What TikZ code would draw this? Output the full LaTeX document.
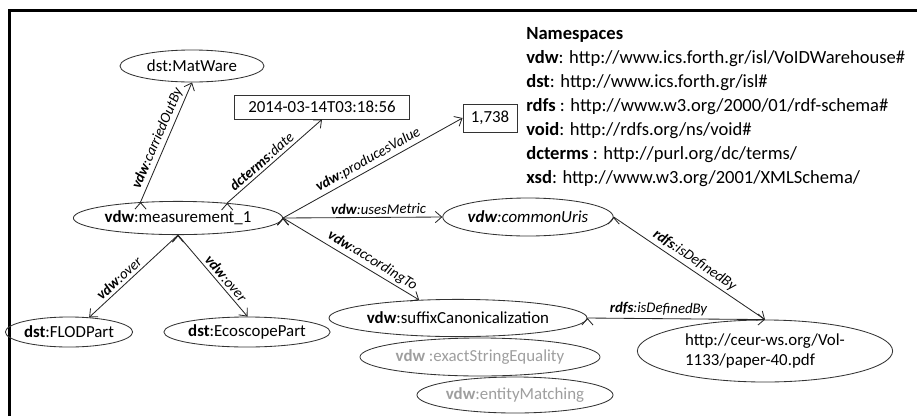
\documentclass[tikz,border=0pt]{standalone}
\usepackage{fontspec}
\setmainfont{Carlito}
\usetikzlibrary{arrows.meta,shapes.geometric}
\tikzset{
>={Straight Barb[length=1.6mm,width=2.8mm]},
nodo/.style={ellipse,draw=black!80,line width=0.6pt,inner sep=0pt,font=\fontsize{12}{14}\selectfont},
valore/.style={rectangle,draw=black!80,line width=0.6pt,inner sep=0pt,font=\fontsize{12}{14}\selectfont},
grigio/.style={nodo,text=black!38},
freccia/.style={->,line width=0.6pt,draw=black!85},
etichetta/.style={sloped,above,inner sep=2pt,font=\fontsize{10.5}{12}\selectfont\itshape}}

\begin{document}
\begin{tikzpicture}[x=0.025cm,y=-0.025cm]

\useasboundingbox (0,0) rectangle (917,416);
\draw[line width=2.1pt] (9.3,416) |- (917,10.7);

\node[nodo,minimum width=3.6cm,minimum height=0.8cm] (mw) at (192,66) {dst:MatWare};
\node[valore,minimum width=4.38cm,minimum height=0.6cm] (d) at (322,107) {2014-03-14T03:18:56};
\node[valore,minimum width=1.35cm,minimum height=0.7cm] (v) at (490,118) {1,738};
\node[nodo,minimum width=5.23cm,minimum height=0.83cm] (m) at (178,218) {\textbf{vdw}:measurement\_1};
\node[nodo,minimum width=4.25cm,minimum height=0.95cm,font=\fontsize{12}{14}\selectfont\itshape] (cu) at (528,217) {\textbf{vdw}:commonUris};
\node[nodo,minimum width=2.63cm,minimum height=0.75cm] (fl) at (69,332) {\textbf{dst}:FLODPart};
\node[nodo,minimum width=3.88cm,minimum height=0.75cm] (es) at (247,332) {\textbf{dst}:EcoscopePart};
\node[nodo,minimum width=6.45cm,minimum height=0.93cm] (sc) at (458,318) {\textbf{vdw}:suffixCanonicalization};
\node[grigio,minimum width=6cm,minimum height=0.95cm] (ex) at (480,357) {\textbf{vdw} :exactStringEquality};
\node[grigio,minimum width=4.9cm,minimum height=0.9cm] (em) at (515,395) {\textbf{vdw}:entityMatching};
\node[nodo,minimum width=6.38cm,minimum height=1.55cm,align=left] (h) at (765,351) {http://ceur-ws.org/Vol-\\1133/paper-40.pdf};

% namespaces
\node[anchor=north west,align=left,inner sep=0pt,font=\fontsize{13.2}{17.1}\selectfont] (ns) at (526,27) {\textbf{Namespaces}\\
\textbf{vdw}: http://www.ics.forth.gr/isl/VoIDWarehouse\#\\
\textbf{dst}: http://www.ics.forth.gr/isl\#\\
\textbf{rdfs} : http://www.w3.org/2000/01/rdf-schema\#\\
\textbf{void}: http://rdfs.org/ns/void\#\\
\textbf{dcterms} : http://purl.org/dc/terms/\\
\textbf{xsd}: http://www.w3.org/2001/XMLSchema/};

\path[freccia] (m.157) edge node[etichetta] {\textbf{vdw}:carriedOutBy} (mw.south);
\path[freccia] (m.17) edge node[etichetta,pos=0.42] {\textbf{dcterms}:date} (d.south);
\path[freccia] (m.east) edge node[etichetta] {\textbf{vdw}:producesValue} (v.west);
\path[freccia] (m.east) edge node[etichetta,pos=0.6] {\textbf{vdw}:usesMetric} (cu.west);
\path[freccia] (m.east) edge node[etichetta,pos=0.62] {\textbf{vdw}:accordingTo} (sc.155);
\path[freccia] (m.south) edge node[etichetta,pos=0.6] {\textbf{vdw}:over} (fl.36);
\path[freccia] (m.south) edge node[etichetta,pos=0.6] {\textbf{vdw}:over} (es.88);
\path[freccia] (cu.east) edge node[etichetta] {\textbf{rdfs}:isDefinedBy} (h.north);
\path[freccia] (sc.east) edge node[etichetta,pos=0.4] {\textbf{rdfs}:isDefinedBy} (h.north);

\end{tikzpicture}
\end{document}
